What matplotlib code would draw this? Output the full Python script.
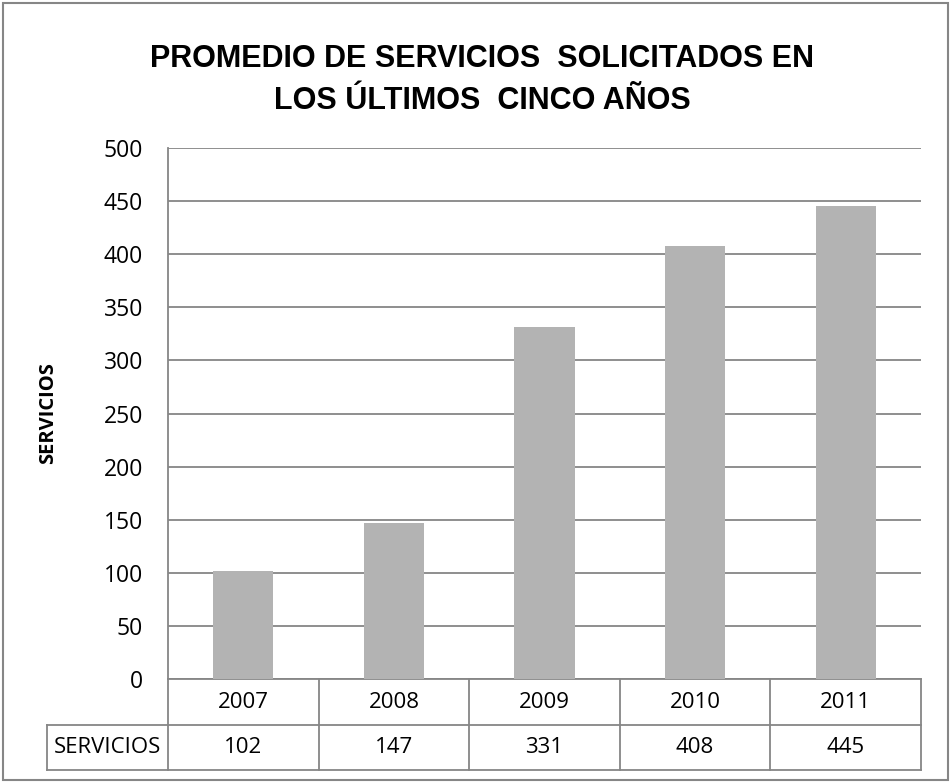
import matplotlib.pyplot as plt
from matplotlib.patches import Rectangle
import matplotlib.transforms as mtransforms

years = ["2007", "2008", "2009", "2010", "2011"]
servicios = [102, 147, 331, 408, 445]
row_label = "SERVICIOS"
title = "PROMEDIO DE SERVICIOS  SOLICITADOS EN\nLOS ÚLTIMOS  CINCO AÑOS"

W, H = 951, 783
grey = "#868686"
tick_font = "Open Sans"

fig = plt.figure(figsize=(W / 100, H / 100), dpi=100)

# outer frame of the chart
fig.patches.append(Rectangle((3 / W, 3 / H), 945 / W, 777 / H, transform=fig.transFigure,
                             fill=False, edgecolor=grey, linewidth=1.5))

ax = fig.add_axes([168 / W, (H - 679) / H, 753 / W, 531 / H])
x = list(range(len(years)))
ax.bar(x, servicios, width=0.4, color="#b3b3b3", zorder=3)
ax.set_xlim(-0.5, len(years) - 0.5)
ax.set_ylim(0, 500)
ax.set_yticks(range(0, 501, 50))
ax.yaxis.grid(True, color=grey, linewidth=1.3, zorder=0)
ax.tick_params(axis="y", length=0, pad=18, labelsize=16.5)
for lab in ax.get_yticklabels():
    lab.set_fontfamily(tick_font)
ax.set_xticks([])
for s in ["top", "right", "bottom"]:
    ax.spines[s].set_visible(False)
ax.spines["left"].set_color(grey)
ax.spines["left"].set_linewidth(1.3)

ax.set_ylabel("SERVICIOS", fontsize=14.5, fontweight="bold", fontfamily=tick_font)
ax.yaxis.set_label_coords(-0.146, 0.5)

# data table under the bars: x in data units, y in axes units
tr = mtransforms.blended_transform_factory(ax.transData, ax.transAxes)
y_top = 0
y_mid = -46 / 531
y_bot = -91 / 531
left_edge = -0.5 - 121 / 150.6
right_edge = len(years) - 0.5
lk = dict(transform=tr, color=grey, linewidth=1.3, clip_on=False)
ax.plot([-0.5, right_edge], [y_top, y_top], **lk)
ax.plot([left_edge, right_edge], [y_mid, y_mid], **lk)
ax.plot([left_edge, right_edge], [y_bot, y_bot], **lk)
ax.plot([left_edge, left_edge], [y_mid, y_bot], **lk)
for i in range(len(years) + 1):
    ax.plot([i - 0.5, i - 0.5], [y_top, y_bot], **lk)

tk = dict(transform=tr, ha="center", va="center", fontsize=16, fontfamily=tick_font, clip_on=False)
for i, (yr, v) in enumerate(zip(years, servicios)):
    ax.text(i, (y_top + y_mid) / 2, yr, **tk)
    ax.text(i, (y_mid + y_bot) / 2, str(v), **tk)
ax.text((left_edge - 0.5) / 2, (y_mid + y_bot) / 2, row_label, **tk)

fig.text(482 / W, 1 - 80 / H, title, ha="center", va="center", fontsize=22,
         fontweight="bold", fontfamily="Liberation Sans", linespacing=1.5)

fig.savefig("out.png", dpi=100)
